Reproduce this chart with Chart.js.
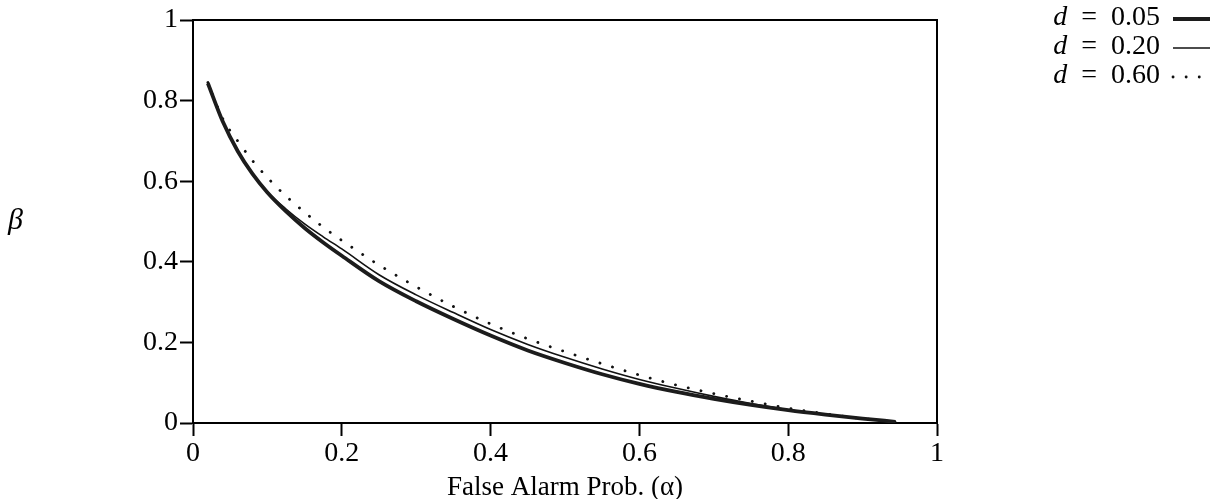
<!DOCTYPE html>
<html>
<head>
<meta charset="utf-8">
<script src="https://cdn.jsdelivr.net/npm/chart.js@4.4.1/dist/chart.umd.min.js"></script>
<style>
  html, body { margin: 0; padding: 0; background: #fff; }
  #wrap { width: 1219px; height: 499px; }
</style>
</head>
<body>
<div id="wrap"><canvas id="roc-chart" width="1219" height="499"></canvas></div>
<script>
// false alarm probability (alpha) sample points
const alpha = [0.02, 0.04, 0.06, 0.08, 0.10, 0.125, 0.15, 0.175, 0.2, 0.25, 0.3, 0.35,
               0.4, 0.45, 0.5, 0.55, 0.6, 0.65, 0.7, 0.75, 0.8, 0.85, 0.9, 0.944];

// miss probability (beta) for each d
const beta005 = [0.843, 0.748, 0.675, 0.618, 0.572, 0.525, 0.484, 0.448, 0.415, 0.352, 0.302, 0.258,
                 0.217, 0.180, 0.149, 0.121, 0.097, 0.077, 0.060, 0.045, 0.032, 0.021, 0.011, 0.003];
const beta020 = [0.845, 0.750, 0.677, 0.620, 0.574, 0.531, 0.494, 0.462, 0.432, 0.368, 0.318, 0.274,
                 0.232, 0.195, 0.163, 0.134, 0.108, 0.086, 0.066, 0.048, 0.033, 0.021, 0.011, 0.003];
const beta060 = [0.845, 0.755, 0.700, 0.651, 0.609, 0.563, 0.523, 0.486, 0.453, 0.392, 0.338, 0.289,
                 0.246, 0.209, 0.177, 0.147, 0.119, 0.094, 0.073, 0.054, 0.037, 0.023, 0.011, 0.003];

const dValues = ['0.05', '0.20', '0.60'];
const xTicks = [0, 0.2, 0.4, 0.6, 0.8, 1];
const yTicks = [0, 0.2, 0.4, 0.6, 0.8, 1];

const toPoints = (ys) => ys.map((y, i) => ({ x: alpha[i], y: y }));
const fmt = (v) => (v === 0 || v === 1) ? String(v) : v.toFixed(1);

const serif = '"Liberation Serif", "Times New Roman", serif';

// top / right edges of the box, plus beta label and the legend on the right
const extras = {
    id: 'extras',
    afterDraw(chart) {
        const { ctx, chartArea } = chart;
        ctx.save();
        ctx.strokeStyle = '#000';
        ctx.lineWidth = 2;
        ctx.beginPath();
        ctx.moveTo(chartArea.left, chartArea.top);
        ctx.lineTo(chartArea.right, chartArea.top);
        ctx.lineTo(chartArea.right, chartArea.bottom);
        ctx.stroke();

        ctx.fillStyle = '#000';
        ctx.textBaseline = 'middle';
        ctx.textAlign = 'left';
        ctx.font = 'italic 30px ' + serif;
        ctx.fillText('β', 8, 221);

        chart.data.datasets.forEach((ds, i) => {
            const y = 18 + i * 29;
            const rest = '\u2002=\u2002' + dValues[i];
            ctx.textAlign = 'right';
            ctx.font = '28px ' + serif;
            const w = ctx.measureText(rest).width;
            ctx.fillText(rest, 1160, y);
            ctx.font = 'italic 28px ' + serif;
            ctx.fillText('d', 1160 - w, y);

            ctx.strokeStyle = ds.borderColor;
            ctx.lineWidth = ds.borderWidth;
            ctx.setLineDash(ds.borderDash || []);
            ctx.lineCap = ds.borderCapStyle || 'butt';
            ctx.beginPath();
            ctx.moveTo(1173, y + 1);
            ctx.lineTo(1210, y + 1);
            ctx.stroke();
        });
        ctx.restore();
    }
};

const ctx = document.getElementById('roc-chart').getContext('2d');

new Chart(ctx, {
    type: 'line',
    data: {
        datasets: [
            {
                label: 'd = 0.05',
                data: toPoints(beta005),
                borderColor: '#1c1c1c',
                borderWidth: 3.8,
                pointRadius: 0,
                cubicInterpolationMode: 'monotone'
            },
            {
                label: 'd = 0.20',
                data: toPoints(beta020),
                borderColor: '#111',
                borderWidth: 1.6,
                pointRadius: 0,
                cubicInterpolationMode: 'monotone'
            },
            {
                label: 'd = 0.60',
                data: toPoints(beta060),
                borderColor: '#111',
                borderWidth: 2.8,
                borderDash: [0.1, 13],
                borderCapStyle: 'round',
                pointRadius: 0,
                cubicInterpolationMode: 'monotone'
            }
        ]
    },
    options: {
        responsive: false,
        animation: false,
        devicePixelRatio: 1,
        layout: { padding: { left: 0, top: 20, right: 282, bottom: 0 } },
        plugins: {
            legend: { display: false },
            tooltip: { enabled: false }
        },
        scales: {
            x: {
                type: 'linear',
                min: 0,
                max: 1,
                afterBuildTicks: (scale) => { scale.ticks = xTicks.map(v => ({ value: v })); },
                afterFit: (scale) => { scale.height = 76; },
                border: { display: true, color: '#000', width: 2 },
                grid: { drawOnChartArea: false, drawTicks: true, tickLength: 13, tickWidth: 2, tickColor: '#000' },
                ticks: { color: '#000', padding: 1, maxRotation: 0, callback: fmt, font: { family: serif, size: 28 } },
                title: {
                    display: true,
                    text: 'False Alarm Prob. (α)',
                    color: '#000',
                    padding: 0,
                    font: { family: serif, size: 27, lineHeight: 0.8 }
                }
            },
            y: {
                type: 'linear',
                min: 0,
                max: 1,
                afterBuildTicks: (scale) => { scale.ticks = yTicks.map(v => ({ value: v })); },
                afterFit: (scale) => { scale.width = 193; },
                border: { display: true, color: '#000', width: 2 },
                grid: { drawOnChartArea: false, drawTicks: true, tickLength: 13, tickWidth: 2, tickColor: '#000' },
                ticks: { color: '#000', padding: 2, callback: fmt, font: { family: serif, size: 28 } }
            }
        }
    },
    plugins: [extras]
});
</script>
</body>
</html>
